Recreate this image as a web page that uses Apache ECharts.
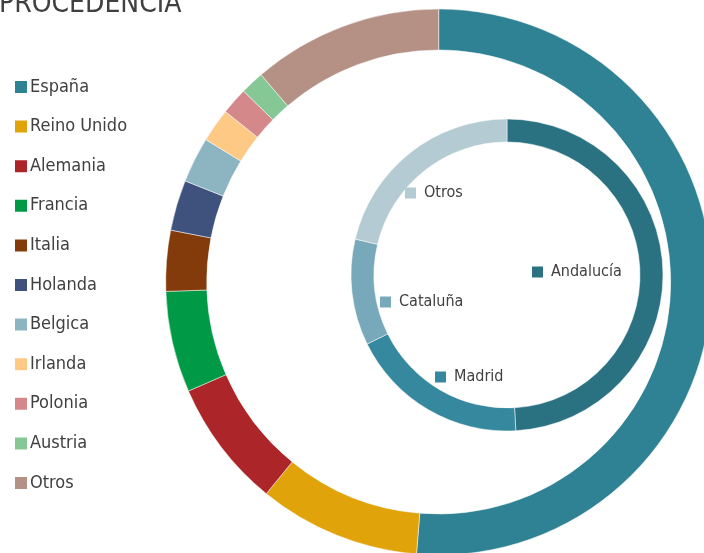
<!DOCTYPE html>
<html>
<head>
<meta charset="utf-8">
<script src="https://cdn.jsdelivr.net/npm/echarts@6/dist/echarts.min.js"></script>
<style>
html,body{margin:0;padding:0;background:#fff;}
#chart{width:704px;height:553px;}
</style>
</head>
<body>
<div id="chart"></div>
<script>
const titleText = 'PROCEDENCIA';
const outerNames = ['España','Reino Unido','Alemania','Francia','Italia','Holanda','Belgica','Irlanda','Polonia','Austria','Otros'];
const outerValues = [51.4, 9.6, 7.6, 6.0, 3.6, 3.0, 2.7, 2.0, 1.6, 1.4, 11.3];
const outerColors = ['#2f8294','#e1a30a','#ac2629','#009a46','#833b0b','#3f527e','#8cb4c1','#fec985','#d4888a','#85c795','#b59084'];
const innerNames = ['Andalucía','Madrid','Cataluña','Otros'];
const innerValues = [49.1, 18.6, 11.0, 21.3];
const innerColors = ['#2a7282','#35889e','#77a9ba','#b4cbd3'];
const innerLabelPos = [[532,272],[435,377],[380,302],[405,193]];

const FONT = 'DejaVu Sans Condensed';
const TXT = '#404040';

const rich = {};
innerColors.forEach((c, i) => {
  rich['m' + i] = {width: 11, height: 11, backgroundColor: c};
});
rich.t = {fontFamily: FONT, fontSize: 16, color: TXT, padding: [0,0,0,8]};

const chart = echarts.init(document.getElementById('chart'), null, {renderer: 'canvas'});
chart.setOption({
  backgroundColor: '#fff',
  animation: false,
  title: {
    text: titleText,
    left: -1, top: -9, padding: 0,
    textStyle: {fontFamily: FONT, fontSize: 28, fontWeight: 'normal', color: TXT}
  },
  legend: {
    data: outerNames,
    orient: 'vertical',
    left: 13, top: 78, padding: 0,
    icon: 'rect',
    itemWidth: 14, itemHeight: 14, itemGap: 21.6,
    textStyle: {fontFamily: FONT, fontSize: 18, color: TXT, padding: [0,0,0,-3]}
  },
  series: [
    {
      type: 'pie',
      center: [438.7, 282],
      radius: [232, 273],
      startAngle: 90,
      clockwise: true,
      avoidLabelOverlap: false,
      label: {show: false},
      labelLine: {show: false},
      itemStyle: {borderColor: '#fff', borderWidth: 0.5},
      emphasis: {disabled: true},
      data: outerNames.map((n, i) => ({name: n, value: outerValues[i], itemStyle: {color: outerColors[i]}}))
    },
    {
      type: 'pie',
      center: [507, 275],
      radius: [133, 156],
      startAngle: 90,
      clockwise: true,
      avoidLabelOverlap: false,
      label: {
        show: true,
        formatter: p => '{m' + p.dataIndex + '|}{t|' + p.name + '}',
        rich: rich
      },
      labelLine: {show: false},
      labelLayout: p => ({
        x: innerLabelPos[p.dataIndex][0],
        y: innerLabelPos[p.dataIndex][1],
        align: 'left',
        verticalAlign: 'middle'
      }),
      itemStyle: {borderColor: '#fff', borderWidth: 0.5},
      emphasis: {disabled: true},
      data: innerNames.map((n, i) => ({name: n, value: innerValues[i], itemStyle: {color: innerColors[i]}}))
    }
  ]
});
</script>
</body>
</html>
